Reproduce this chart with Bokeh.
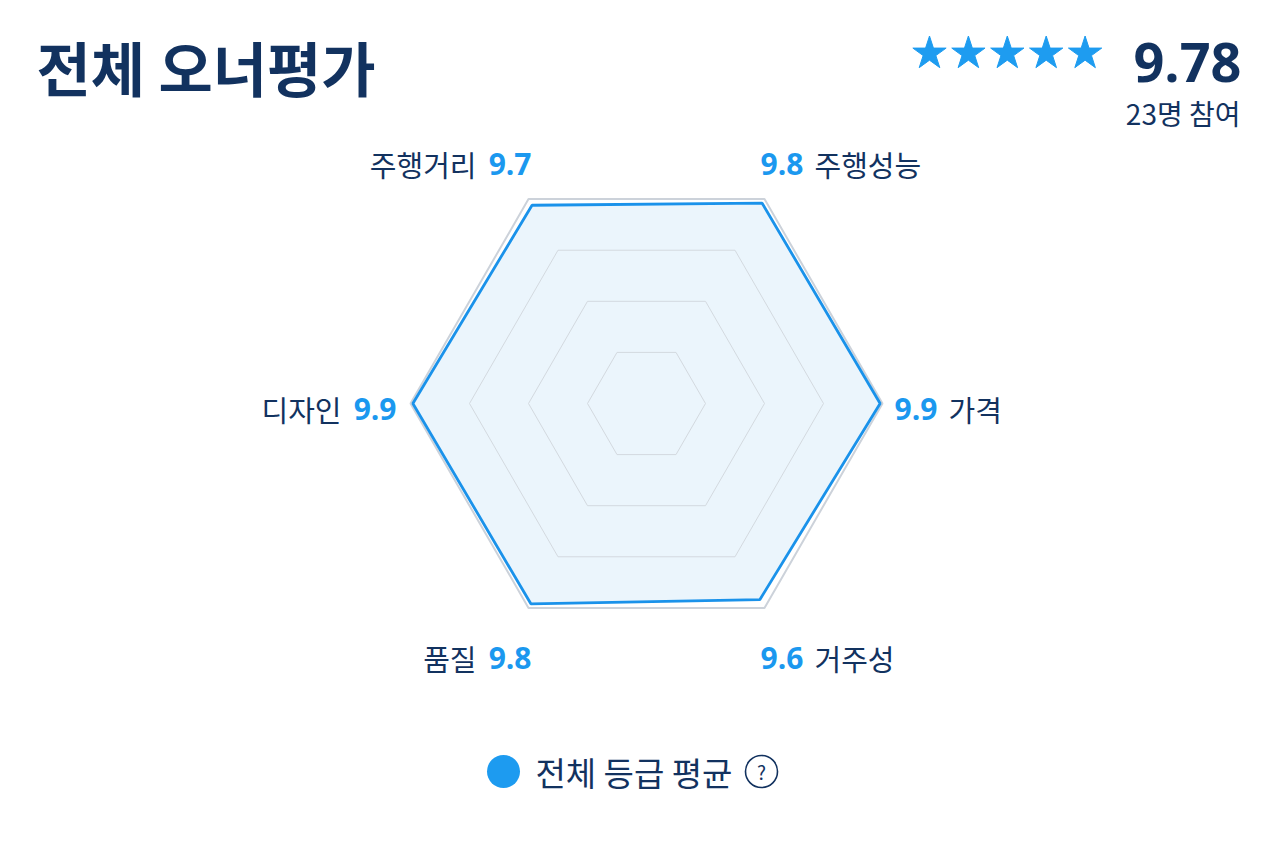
import math
from bokeh.plotting import figure
from bokeh.models import Range1d
from bokeh.core.properties import value
from bokeh.embed import file_html
from bokeh.resources import INLINE

# ---- data ----
categories = ["주행거리", "주행성능", "가격", "거주성", "품질", "디자인"]
scores = [9.7, 9.8, 9.9, 9.6, 9.8, 9.9]
grid_levels = [2.5, 5.0, 7.5, 10.0]
max_score = 10.0
overall = 9.78
participants = 23
n_stars = 5
title_text = "전체 오너평가"
legend_text = "전체 등급 평균"

# ---- layout ----
W, H = 1264, 836
CX, CY = 646, 403          # radar centre in picture pixels
S = 23.6                   # pixels per score unit
KR = "Noto Sans CJK KR"
NUM = "Open Sans"
NAVY = "#12325f"
BLUE = "#1b98ef"
LINE = "#1a92ea"
FILL = "#ebf5fc"
GRID = "#d3d9df"


def dx(px):
    return (px - CX) / S


def dy(py):
    return (CY - py) / S


p = figure(width=W, height=H, output_backend="svg", toolbar_location=None,
           x_range=Range1d(dx(0), dx(W)), y_range=Range1d(dy(H), dy(0)),
           x_axis_type=None, y_axis_type=None, min_border=0)
p.grid.visible = False
p.outline_line_color = None
p.background_fill_color = "white"

angles = [math.radians(120 - 60 * i) for i in range(len(categories))]

# data polygon fill
px_ = [v * math.cos(a) for v, a in zip(scores, angles)]
py_ = [v * math.sin(a) for v, a in zip(scores, angles)]
p.patch(px_, py_, fill_color=FILL, line_color=None)

# grid rings
for lv in grid_levels:
    xs = [lv * math.cos(a) for a in angles]
    ys = [lv * math.sin(a) for a in angles]
    outer = lv == max_score
    p.patch(xs, ys, fill_color=None, line_color="#ccd2da" if outer else GRID,
            line_width=2 if outer else 1)

# data polygon outline
p.patch(px_, py_, fill_color=None, line_color=LINE, line_width=2.8)

# axis labels
for cat, v, a in zip(categories, scores, angles):
    c = math.cos(a)
    s = math.sin(a)
    if abs(c) > 0.9:
        ax = 248 if c > 0 else -250
        ay = 5
    else:
        ax = 114 if c > 0 else -115
        ay = -240 if s > 0 else 254
    vx, vy = CX + ax, CY + ay
    if c > 0:
        p.text([dx(vx)], [dy(vy)], text=[f"{v:.1f}"], text_align="left", text_baseline="middle",
               text_font=value(NUM), text_font_style="bold", text_font_size="30px", text_color=BLUE)
        p.text([dx(vx + 54)], [dy(vy)], text=[cat], text_align="left", text_baseline="middle",
               text_font=value(KR), text_font_size="29px", text_color=NAVY)
    else:
        p.text([dx(vx)], [dy(vy)], text=[f"{v:.1f}"], text_align="right", text_baseline="middle",
               text_font=value(NUM), text_font_style="bold", text_font_size="30px", text_color=BLUE)
        p.text([dx(vx - 55)], [dy(vy)], text=[cat], text_align="right", text_baseline="middle",
               text_font=value(KR), text_font_size="29px", text_color=NAVY)

# title
p.text([dx(36)], [dy(66)], text=[title_text], text_align="left", text_baseline="middle",
       text_font=value(KR), text_font_style="bold", text_font_size="59px", text_color=NAVY)

# stars + overall
star_x = [dx(929 + 38.9 * i) for i in range(n_stars)]
p.scatter(star_x, [dy(53)] * n_stars, marker="star", size=35, fill_color="#1e9cf0",
          line_color="#1e9cf0")
p.text([dx(1241)], [dy(62)], text=[f"{overall:.2f}"], text_align="right", text_baseline="middle",
       text_font=value(NUM), text_font_style="bold", text_font_size="54px", text_color=NAVY)
p.text([dx(1240)], [dy(112)], text=[f"{participants}명 참여"], text_align="right",
       text_baseline="middle", text_font=value(KR), text_font_size="28px", text_color=NAVY)

# legend
p.scatter([dx(503)], [dy(771)], marker="circle", size=33, fill_color="#1d9bf0", line_color=None)
p.text([dx(535)], [dy(771)], text=[legend_text], text_align="left", text_baseline="middle",
       text_font=value(KR), text_font_size="33px", text_color=NAVY)
p.scatter([dx(761)], [dy(771)], marker="circle", size=32, fill_color=None, line_color=NAVY,
          line_width=1.6)
p.text([dx(761)], [dy(771)], text=["?"], text_align="center", text_baseline="middle",
       text_font=value(KR), text_font_size="19px", text_color=NAVY)

open("out.html", "w").write(file_html(p, INLINE))
